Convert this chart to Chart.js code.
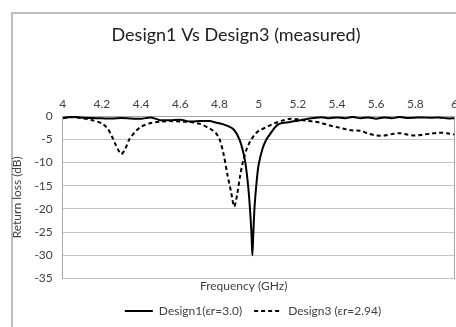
<!DOCTYPE html>
<html>
<head>
<meta charset="utf-8">
<script src="https://cdn.jsdelivr.net/npm/chart.js@4/dist/chart.umd.min.js"></script>
<style>
  html, body { margin: 0; padding: 0; background: #fff; overflow: hidden; }
  #wrap { width: 463px; height: 327px; position: relative; }
</style>
</head>
<body>
<div id="wrap"><canvas id="chart"></canvas></div>
<script>
// measured return loss
const design1_freq = [4.00, 4.05, 4.10, 4.15, 4.20, 4.25, 4.30, 4.35, 4.40, 4.45, 4.50, 4.55, 4.60, 4.65, 4.70, 4.75,
    4.78, 4.82, 4.85, 4.87, 4.89, 4.91, 4.93, 4.945, 4.955, 4.963, 4.968, 4.973, 4.98, 4.99, 5.00, 5.02, 5.04,
    5.06, 5.08, 5.10, 5.12, 5.16, 5.20, 5.24, 5.28, 5.32, 5.36, 5.40, 5.44, 5.48, 5.52, 5.56, 5.60, 5.64,
    5.68, 5.72, 5.76, 5.80, 5.84, 5.88, 5.92, 5.96, 6.00];
const design1_rl = [-0.5, -0.15, -0.4, -0.45, -0.5, -0.55, -0.45, -0.55, -0.6, -0.3, -0.9, -0.9, -0.8, -1.2, -1.1, -1.1,
    -1.4, -1.8, -2.3, -2.8, -4.0, -6.0, -9.5, -14.5, -19.5, -25, -30, -25, -19, -14, -10.5, -7, -5,
    -3.8, -2.6, -1.8, -1.5, -1.3, -1.0, -0.7, -0.45, -0.25, -0.5, -0.3, -0.5, -0.2, -0.5, -0.3, -0.6, -0.3,
    -0.5, -0.2, -0.45, -0.35, -0.3, -0.4, -0.3, -0.5, -0.5];

const design3_freq = [4.00, 4.05, 4.10, 4.15, 4.20, 4.23, 4.25, 4.27, 4.29, 4.30, 4.32, 4.34, 4.37, 4.40, 4.45, 4.50,
    4.55, 4.60, 4.65, 4.70, 4.75, 4.78, 4.80, 4.82, 4.84, 4.86, 4.875, 4.89, 4.905, 4.92, 4.94, 4.96, 4.98,
    5.00, 5.04, 5.08, 5.12, 5.16, 5.20, 5.24, 5.28, 5.32, 5.36, 5.40, 5.44, 5.48, 5.52, 5.56, 5.60, 5.64,
    5.68, 5.72, 5.76, 5.80, 5.84, 5.88, 5.92, 5.96, 6.00];
const design3_rl = [-0.4, -0.25, -0.5, -0.9, -1.6, -2.8, -4.3, -6.2, -7.8, -8.2, -7.0, -5.0, -3.4, -2.3, -1.5, -1.2,
    -1.1, -1.2, -1.3, -1.7, -2.7, -3.6, -5.0, -8.0, -12.5, -16.5, -19.5, -17.0, -13, -9.8, -7.0, -5.2, -4.0,
    -3.2, -2.4, -1.6, -1.0, -0.6, -0.7, -1.0, -1.2, -1.5, -2.0, -2.4, -2.8, -3.1, -3.2, -3.8, -4.2, -4.2,
    -3.9, -3.7, -4.0, -4.2, -4.0, -3.8, -3.6, -3.7, -4.0];

const series_labels = ['Design1(\u03b5r=3.0)', 'Design3 (\u03b5r=2.94)'];
const x_ticks = [4, 4.2, 4.4, 4.6, 4.8, 5, 5.2, 5.4, 5.6, 5.8, 6];
const y_ticks = [0, -5, -10, -15, -20, -25, -30, -35];

const font_family = 'Lato, "Open Sans", sans-serif';

function to_points(xs, ys) {
    return xs.map((x, i) => ({ x: x, y: ys[i] }));
}

// grey frame round the whole chart, plus nudging legend / axis title like the original
const frame_plugin = {
    id: 'frame',
    afterLayout(chart) {
        chart.legend.left += 17;
        chart.legend.right += 17;
        chart.scales.x2.left -= 30;
    },
    beforeDraw(chart) {
        const ctx = chart.ctx;
        ctx.save();
        ctx.strokeStyle = '#bdbdbd';
        ctx.lineWidth = 2;
        ctx.strokeRect(12, 13, 470, 330);
        ctx.restore();
    }
};

new Chart(document.getElementById('chart'), {
    type: 'line',
    data: {
        datasets: [
            {
                label: series_labels[0],
                data: to_points(design1_freq, design1_rl),
                borderColor: '#000',
                backgroundColor: '#000',
                borderWidth: 2,
                pointRadius: 0,
                tension: 0.3,
                pointStyle: 'line'
            },
            {
                label: series_labels[1],
                data: to_points(design3_freq, design3_rl),
                borderColor: '#000',
                backgroundColor: '#000',
                borderWidth: 2,
                borderDash: [4, 3],
                pointRadius: 0,
                tension: 0.3,
                pointStyle: 'line'
            }
        ]
    },
    plugins: [frame_plugin],
    options: {
        responsive: true,
        maintainAspectRatio: false,
        animation: false,
        layout: { padding: { left: 10, right: 1, top: 23, bottom: 0 } },
        scales: {
            x: {
                type: 'linear',
                position: 'top',
                min: 4,
                max: 6,
                afterBuildTicks: (axis) => { axis.ticks = x_ticks.map(v => ({ value: v })); },
                ticks: {
                    color: '#404040',
                    font: { family: font_family, size: 12 },
                    padding: 5,
                    maxRotation: 0,
                    callback: (v) => String(Math.round(v * 10) / 10)
                },
                grid: { display: false, drawTicks: false },
                border: { color: '#a6a6a6' }
            },
            x2: {
                type: 'linear',
                position: 'bottom',
                min: 4,
                max: 6,
                ticks: { display: false },
                grid: { display: false, drawTicks: false },
                border: { display: false },
                title: {
                    display: true,
                    text: 'Frequency (GHz)',
                    color: '#404040',
                    font: { family: font_family, size: 12 },
                    padding: { top: 0, bottom: 0 }
                }
            },
            y: {
                min: -35,
                max: 0,
                afterBuildTicks: (axis) => { axis.ticks = y_ticks.map(v => ({ value: v })); },
                ticks: {
                    color: '#404040',
                    font: { family: font_family, size: 12 },
                    padding: 10
                },
                grid: { color: '#c4c4c4', drawTicks: false },
                border: { color: '#a6a6a6' },
                title: {
                    display: true,
                    text: 'Return loss (dB)',
                    color: '#404040',
                    font: { family: font_family, size: 12 },
                    padding: 0
                }
            },
            y2: {
                position: 'right',
                min: -35,
                max: 0,
                ticks: { display: false },
                grid: { display: false, drawTicks: false },
                border: { color: '#a6a6a6' }
            }
        },
        plugins: {
            title: {
                display: true,
                text: 'Design1 Vs Design3 (measured)',
                color: '#202020',
                font: { family: font_family, size: 18, weight: 'normal' },
                padding: { top: 1, bottom: 46 }
            },
            legend: {
                position: 'bottom',
                labels: {
                    color: '#404040',
                    font: { family: font_family, size: 12 },
                    usePointStyle: true,
                    boxWidth: 28,
                    pointStyleWidth: 28,
                    boxHeight: 2,
                    padding: 12,
                    generateLabels: (chart) => {
                        const items = Chart.defaults.plugins.legend.labels.generateLabels(chart);
                        items.forEach((item, i) => {
                            item.lineDash = chart.data.datasets[i].borderDash || [];
                            item.lineWidth = 2;
                        });
                        return items;
                    }
                }
            },
            tooltip: { enabled: false }
        }
    }
});
</script>
</body>
</html>
